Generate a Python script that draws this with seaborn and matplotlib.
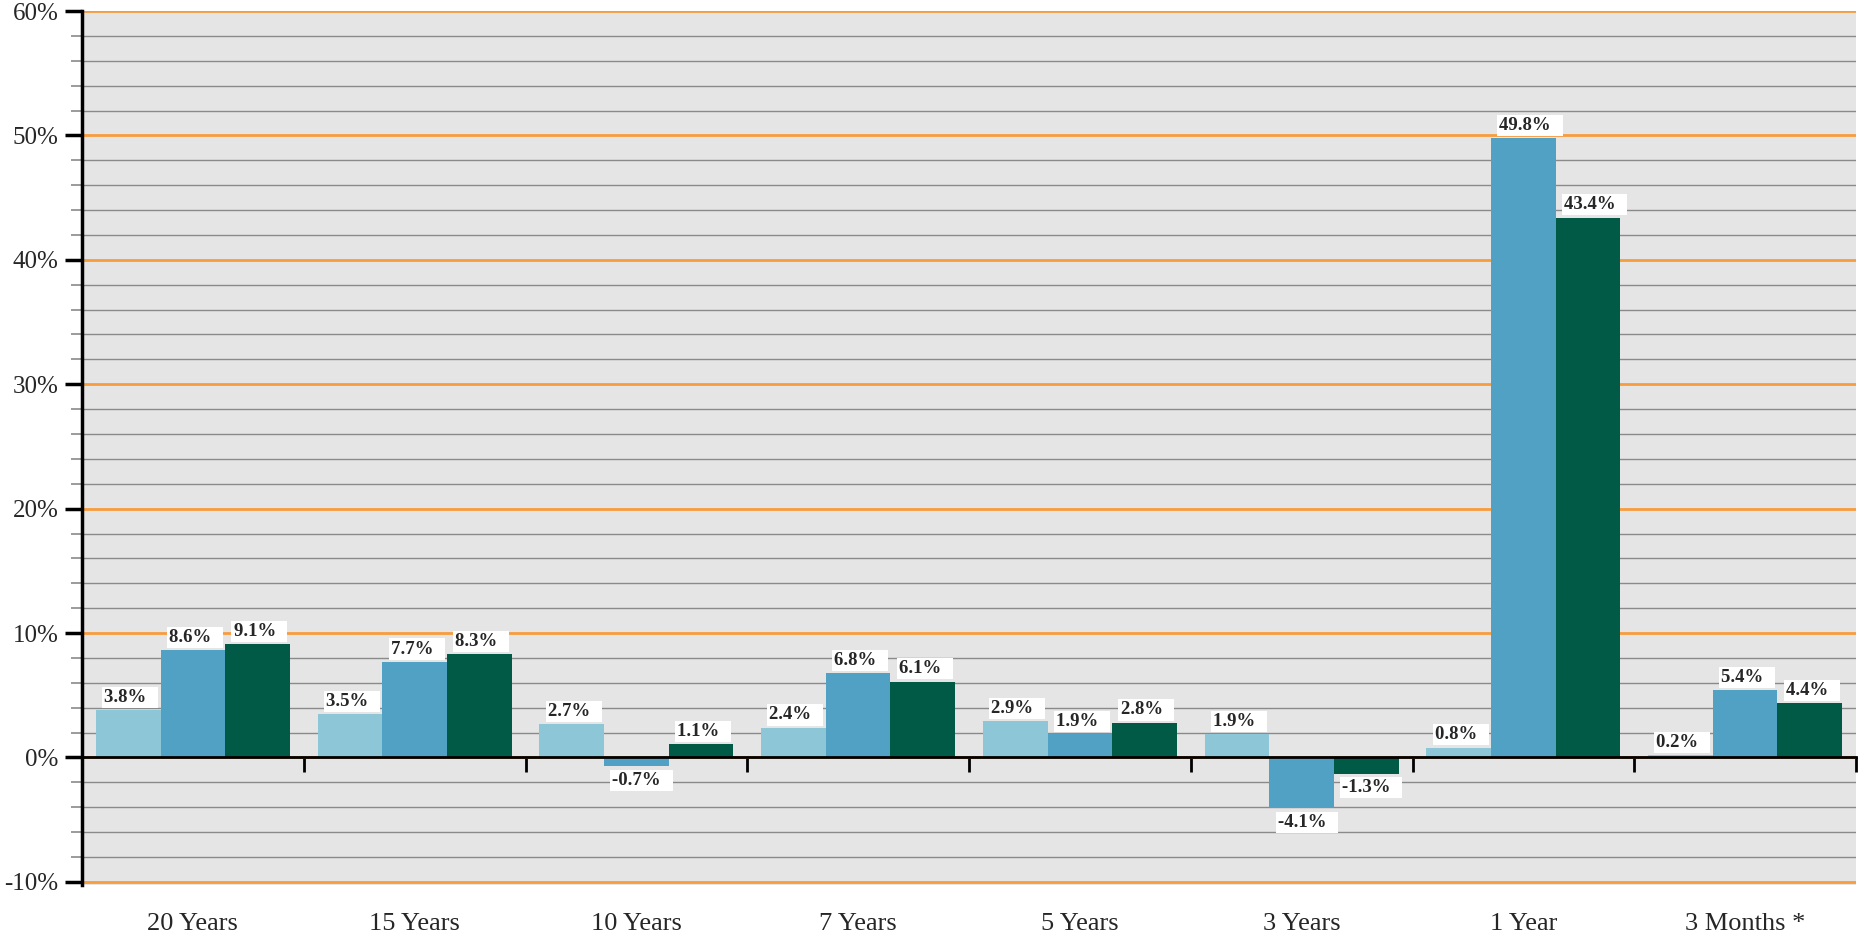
import pandas as pd
import matplotlib.pyplot as plt
import seaborn as sns
from matplotlib.ticker import MultipleLocator, FixedLocator


periods = ['20 Years', '15 Years', '10 Years', '7 Years', '5 Years', '3 Years', '1 Year', '3 Months *']
series_a = [3.8, 3.5, 2.7, 2.4, 2.9, 1.9, 0.8, 0.2]
series_b = [8.6, 7.7, -0.7, 6.8, 1.9, -4.1, 49.8, 5.4]
series_c = [9.1, 8.3, 1.1, 6.1, 2.8, -1.3, 43.4, 4.4]
series_names = ['Series A', 'Series B', 'Series C']
y_ticks = [-10, 0, 10, 20, 30, 40, 50, 60]
colors = ['#8dc6d6', '#51a1c4', '#005a46']

df = pd.DataFrame({
    'period': periods * 3,
    'series': [series_names[0]] * 8 + [series_names[1]] * 8 + [series_names[2]] * 8,
    'value': series_a + series_b + series_c,
})

sns.set_style("white")
plt.rcParams['font.family'] = ['Liberation Serif', 'DejaVu Serif']
plt.rcParams['axes.unicode_minus'] = False

fig = plt.figure(figsize=(18.62, 9.36), dpi=100)
ax = fig.add_axes([82 / 1862, 1 - 885 / 936, 1774 / 1862, (885 - 11) / 936])
ax.set_facecolor('#e5e5e5')

sns.barplot(data=df, x='period', y='value', hue='series', palette=colors,
            order=periods, hue_order=series_names, width=0.875, saturation=1,
            linewidth=0, legend=False, ax=ax)

ax.set_xlim(-0.5, 7.5)
ax.set_ylim(-10.25, 60)

# grid: orange every 10%, grey every 2%
ax.set_axisbelow(True)
ax.yaxis.set_major_locator(FixedLocator(y_ticks))
ax.yaxis.set_minor_locator(MultipleLocator(2))
ax.set_yticklabels([f'{t}%' for t in y_ticks])
ax.grid(axis='y', which='major', color='#f89c3c', linewidth=2)
ax.grid(axis='y', which='minor', color='#8a8a8a', linewidth=1)
ax.grid(axis='x', visible=False)
ax.tick_params(axis='y', which='both', left=True)
ax.tick_params(axis='y', which='major', length=12, width=2.5, color='black',
               labelsize=18, pad=5)
ax.tick_params(axis='y', which='minor', length=8, width=1.2, color='#8a8a8a')

# zero line as x axis, ticks between groups
for s in ['top', 'right']:
    ax.spines[s].set_visible(False)
ax.spines['left'].set_linewidth(2.5)
ax.spines['left'].set_color('black')
ax.spines['bottom'].set_position(('data', 0))
ax.spines['bottom'].set_linewidth(2)
ax.spines['bottom'].set_color('black')
ax.set_xticks(range(len(periods)))
ax.set_xticklabels(periods)
ax.xaxis.set_minor_locator(FixedLocator([i + 0.5 for i in range(len(periods))]))
ax.tick_params(axis='x', which='both', bottom=True)
ax.tick_params(axis='x', which='major', length=0, labelsize=19, pad=112)
ax.tick_params(axis='x', which='minor', length=11, width=2, color='black', direction='out')

ax.set_xlabel('')
ax.set_ylabel('')

# value labels: white box, left aligned on the bar
for cont in ax.containers:
    for bar, v in zip(cont, cont.datavalues):
        if v >= 0:
            off, va = (6, 3), 'bottom'
        else:
            off, va = (6, -4), 'top'
        ax.annotate(f'{v:.1f}%  ', xy=(bar.get_x(), v), xytext=off,
                    textcoords='offset points', ha='left', va=va,
                    fontsize=13.5, fontweight='bold',
                    bbox=dict(facecolor='white', edgecolor='none', pad=1.5))

plt.savefig('out.png', dpi=100)
